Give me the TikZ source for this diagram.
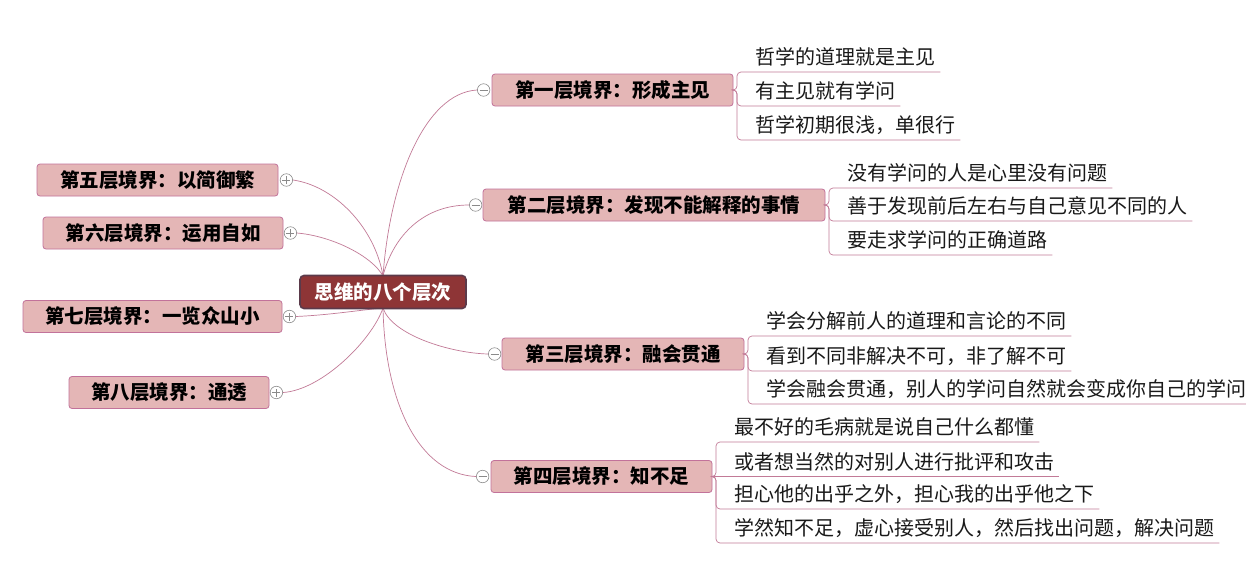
\documentclass[tikz,border=0pt]{standalone}
\usepackage{fontspec}
\newfontfamily\cjk{Noto Sans CJK SC}
\usetikzlibrary{calc}
\definecolor{topicfill}{HTML}{E4B6B6}
\definecolor{topicline}{HTML}{C2729A}
\definecolor{connline}{HTML}{C27A97}
\definecolor{mainfill}{HTML}{8E3536}
\definecolor{mainline}{HTML}{5B3A4A}
\definecolor{markgray}{HTML}{8A8A8A}
\begin{document}
\begin{tikzpicture}[x=1pt,y=-1pt,
  every node/.style={font=\cjk\fontsize{20}{24}\selectfont},
  maintopic/.style={draw=mainline, line width=1.6pt, fill=mainfill, rounded corners=4pt,
    text=white, font=\cjk\bfseries\fontsize{19.5}{23}\selectfont, minimum height=33, inner sep=0pt},
  topic/.style={draw=topicline, line width=0.8pt, fill=topicfill, rounded corners=3pt,
    font=\cjk\bfseries\fontsize{19.5}{23}\selectfont, minimum height=32, inner sep=0pt},
  leaf/.style={anchor=south west, inner xsep=0pt, inner ysep=0pt, text height=15pt, text depth=7pt, text=black!90},
  conn/.style={draw=connline, line width=0.7pt},
  collapsed/.style={circle, draw=markgray, fill=white, line width=0.6pt, minimum size=12.5, inner sep=0pt,
    path picture={\draw[markgray,line width=0.7pt] ([xshift=-4]path picture bounding box.center) -- ([xshift=4]path picture bounding box.center);
                  \draw[markgray,line width=0.7pt] ([yshift=-4]path picture bounding box.center) -- ([yshift=4]path picture bounding box.center);}},
  expanded/.style={circle, draw=markgray, fill=white, line width=0.6pt, minimum size=12.5, inner sep=0pt,
    path picture={\draw[markgray,line width=0.7pt] ([xshift=-4]path picture bounding box.center) -- ([xshift=4]path picture bounding box.center);}}
]
\useasboundingbox[fill=white] (0,0) rectangle (1246,560);

% ---------- topics ----------
\node[topic, minimum width=241] (b1) at (612.5,90) {第一层境界：形成主见};
\node[topic, minimum width=342] (b2) at (654,205) {第二层境界：发现不能解释的事情};
\node[topic, minimum width=242] (b3) at (623,354) {第三层境界：融会贯通};
\node[topic, minimum width=221] (b4) at (601.5,476.5) {第四层境界：知不足};
\node[topic, minimum width=241] (b5) at (157.5,180) {第五层境界：以简御繁};
\node[topic, minimum width=240] (b6) at (163,233) {第六层境界：运用自如};
\node[topic, minimum width=259] (b7) at (152.5,316.5) {第七层境界：一览众山小};
\node[topic, minimum width=200] (b8) at (169,392.5) {第八层境界：通透};

% ---------- markers ----------
\node[expanded] (m1) at ($(b1.west)+(-8,0)$) {};
\node[expanded] (m2) at ($(b2.west)+(-7,0)$) {};
\node[expanded] (m3) at ($(b3.west)+(-7,0)$) {};
\node[expanded] (m4) at ($(b4.west)+(-8,0)$) {};
\node[collapsed] (m5) at ($(b5.east)+(8,0)$) {};
\node[collapsed] (m6) at ($(b6.east)+(7,0)$) {};
\node[collapsed] (m7) at ($(b7.east)+(7,0)$) {};
\node[collapsed] (m8) at ($(b8.east)+(7,0)$) {};

% ---------- main connectors (behind central topic) ----------
\coordinate (ct) at (383,276);
\coordinate (cb) at (383,308);
\draw[conn] (ct) .. controls (390,180) and (425,93) .. (m1.west);
\draw[conn] (ct) .. controls (392,240) and (420,205) .. (m2.west);
\draw[conn] (cb) .. controls (392,335) and (450,353) .. (m3.west);
\draw[conn] (cb) .. controls (385,405) and (420,474) .. (m4.west);
\draw[conn] (m5.east) .. controls (335,186) and (375,228) .. (ct);
\draw[conn] (m6.east) .. controls (332,236) and (372,256) .. (ct);
\draw[conn] (m7.east) .. controls (330,315) and (360,310) .. (cb);
\draw[conn] (m8.east) .. controls (322,390) and (372,340) .. (cb);

\node[maintopic, minimum width=166] (c) at (383,292) {思维的八个层次};

% ---------- leaves ----------
\node[leaf] (l11) at (737,72)  {\hspace*{18pt}哲学的道理就是主见\hspace*{5pt}};
\node[leaf] (l12) at (737,106) {\hspace*{18pt}有主见就有学问\hspace*{5pt}};
\node[leaf] (l13) at (737,140) {\hspace*{18pt}哲学初期很浅，单很行\hspace*{5pt}};

\node[leaf] (l21) at (829,188) {\hspace*{18pt}没有学问的人是心里没有问题\hspace*{5pt}};
\node[leaf] (l22) at (829,221) {\hspace*{18pt}善于发现前后左右与自己意见不同的人\hspace*{5pt}};
\node[leaf] (l23) at (829,255) {\hspace*{18pt}要走求学问的正确道路\hspace*{5pt}};

\node[leaf] (l31) at (748,336) {\hspace*{18pt}学会分解前人的道理和言论的不同\hspace*{5pt}};
\node[leaf] (l32) at (748,371) {\hspace*{18pt}看到不同非解决不可，非了解不可\hspace*{5pt}};
\node[leaf] (l33) at (748,404) {\hspace*{18pt}学会融会贯通，别人的学问自然就会变成你自己的学问\hspace*{3pt}};

\node[leaf] (l41) at (716,442) {\hspace*{18pt}最不好的毛病就是说自己什么都懂\hspace*{5pt}};
\node[leaf] (l42) at (716,476.5) {\hspace*{18pt}或者想当然的对别人进行批评和攻击\hspace*{5pt}};
\node[leaf] (l43) at (716,509) {\hspace*{18pt}担心他的出乎之外，担心我的出乎他之下\hspace*{5pt}};
\node[leaf] (l44) at (716,543) {\hspace*{18pt}学然知不足，虚心接受别人，然后找出问题，解决问题\hspace*{5pt}};

% ---------- leaf connectors ----------
\foreach \p/\l in {b1/l11,b1/l12,b1/l13,b2/l21,b2/l22,b2/l23,b3/l31,b3/l32,b3/l33,b4/l41,b4/l43,b4/l44}{
  \draw[conn, rounded corners=4pt] (\p.east) -- (\p.east -| \l.south west) -- (\l.south west) -- (\l.south east);
}
\draw[conn] (b4.east) -- (l42.south east);
\end{tikzpicture}
\end{document}
